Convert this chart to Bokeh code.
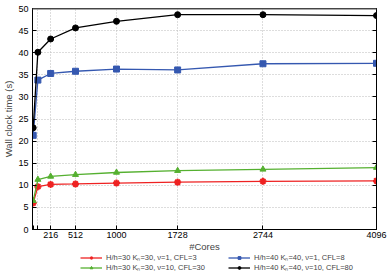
from bokeh.plotting import figure
from bokeh.layouts import column
from bokeh.models import Legend, LegendItem, LinearAxis, FixedTicker, Range1d, Span
from bokeh.embed import file_html
from bokeh.resources import INLINE

cores = [8, 64, 216, 512, 1000, 1728, 2744, 4096]
red_vals = [6.0, 9.7, 10.2, 10.3, 10.5, 10.7, 10.9, 11.0]
green_vals = [6.5, 11.3, 12.0, 12.4, 12.9, 13.3, 13.6, 14.0]
blue_vals = [21.3, 33.8, 35.3, 35.8, 36.3, 36.1, 37.5, 37.6]
black_vals = [23.0, 40.1, 43.1, 45.6, 47.1, 48.6, 48.6, 48.4]

labels = [
    "H/h=30 Kₙ=30, ν=1, CFL=3",
    "H/h=30 Kₙ=30, ν=10, CFL=30",
    "H/h=40 Kₙ=40, ν=1, CFL=8",
    "H/h=40 Kₙ=40, ν=10, CFL=80",
]
x_ticks = [8, 64, 216, 512, 1000, 1728, 2744, 4096]
x_tick_labels = {8: "", 64: "", 216: "216", 512: "512", 1000: "1000",
                 1728: "1728", 2744: "2744", 4096: "4096"}
y_ticks = [0, 5, 10, 15, 20, 25, 30, 35, 40, 45, 50]

FONT = "Liberation Sans"
W = 389
styles = [
    dict(color="#ee2222", marker="asterisk", size=7),
    dict(color="#55b030", marker="triangle", size=6),
    dict(color="#3558b0", marker="square", size=6),
    dict(color="black", marker="circle", size=6),
]
series = [red_vals, green_vals, blue_vals, black_vals]

p = figure(width=W, height=254, output_backend="svg", toolbar_location=None,
           x_range=Range1d(0, 4096), y_range=Range1d(0, 50),
           min_border_left=0, min_border_right=13, min_border_top=8, min_border_bottom=0)
p.outline_line_color = "black"
p.outline_line_width = 1

for ax in (p.xaxis[0], p.yaxis[0]):
    ax.major_tick_in = 4
    ax.major_tick_out = 0
    ax.minor_tick_in = 0
    ax.minor_tick_out = 0
    ax.major_label_text_font = FONT
    ax.major_label_text_font_size = "9px"
    ax.major_label_text_color = "black"
    ax.axis_label_text_font = FONT
    ax.axis_label_text_font_size = "9.5px"
    ax.axis_label_text_font_style = "normal"
    ax.axis_line_color = "black"

p.xaxis.ticker = FixedTicker(ticks=x_ticks)
p.xaxis.major_label_overrides = x_tick_labels
p.xaxis.axis_label = "#Cores"
p.xaxis.major_label_standoff = 2
p.xaxis.axis_label_standoff = 0

p.yaxis.ticker = FixedTicker(ticks=y_ticks)
p.yaxis.axis_label = "Wall clock time (s)"
p.yaxis.major_label_standoff = 4
p.yaxis.axis_label_standoff = 1

right = LinearAxis(ticker=FixedTicker(ticks=y_ticks), major_tick_in=4, major_tick_out=0,
                   minor_tick_in=0, minor_tick_out=0, major_label_text_color=None,
                   major_label_text_font_size="1px",
                   major_label_standoff=0, axis_line_color="black")
p.add_layout(right, "right")

p.xgrid.ticker = FixedTicker(ticks=x_ticks[1:])
for g in (p.xgrid[0], p.ygrid[0]):
    g.grid_line_color = "#bbbbbb"
    g.grid_line_dash = "1 2"
    g.grid_line_width = 1

top = Span(location=50, dimension="width", line_color="#8a8a8a", line_width=2.5)
p.add_layout(top)

for vals, st in zip(series, styles):
    p.line(cores, vals, line_color=st["color"], line_width=1.3)
    if st["marker"] == "asterisk":
        p.scatter(cores, vals, marker="asterisk", size=st["size"], line_color=st["color"], line_width=2)
    else:
        p.scatter(cores, vals, marker=st["marker"], size=st["size"],
                  fill_color=st["color"], line_color=st["color"])

# legend panel below the chart (gnuplot-style key)
lg = figure(width=W, height=18, output_backend="svg", toolbar_location=None,
            x_range=Range1d(0, 1), y_range=Range1d(0, 1),
            min_border=0, x_axis_type=None, y_axis_type=None)
lg.outline_line_color = None
lg.xgrid.visible = False
lg.ygrid.visible = False
items = []
for vals, st, lab in zip(series, styles, labels):
    ln = lg.line(cores, vals, line_color=st["color"], line_width=1.3, visible=False)
    if st["marker"] == "asterisk":
        mk = lg.scatter(cores, vals, marker="asterisk", size=st["size"], line_color=st["color"],
                        line_width=2, visible=False)
    else:
        mk = lg.scatter(cores, vals, marker=st["marker"], size=st["size"],
                        fill_color=st["color"], line_color=st["color"], visible=False)
    items.append(LegendItem(label=lab, renderers=[ln, mk]))

legend = Legend(items=items, ncols=2, location=(48, 0), orientation="vertical")
legend.label_text_font = FONT
legend.label_text_font_size = "7.5px"
legend.label_height = 7
legend.label_width = 122
legend.glyph_height = 7
legend.glyph_width = 22
legend.label_standoff = 4
legend.spacing = 0
legend.padding = 0
legend.margin = 0
legend.border_line_color = None
legend.background_fill_alpha = 0
lg.add_layout(legend, "center")

layout = column(p, lg, spacing=0)
html = file_html(layout, INLINE)
open("out.html", "w").write(html)
